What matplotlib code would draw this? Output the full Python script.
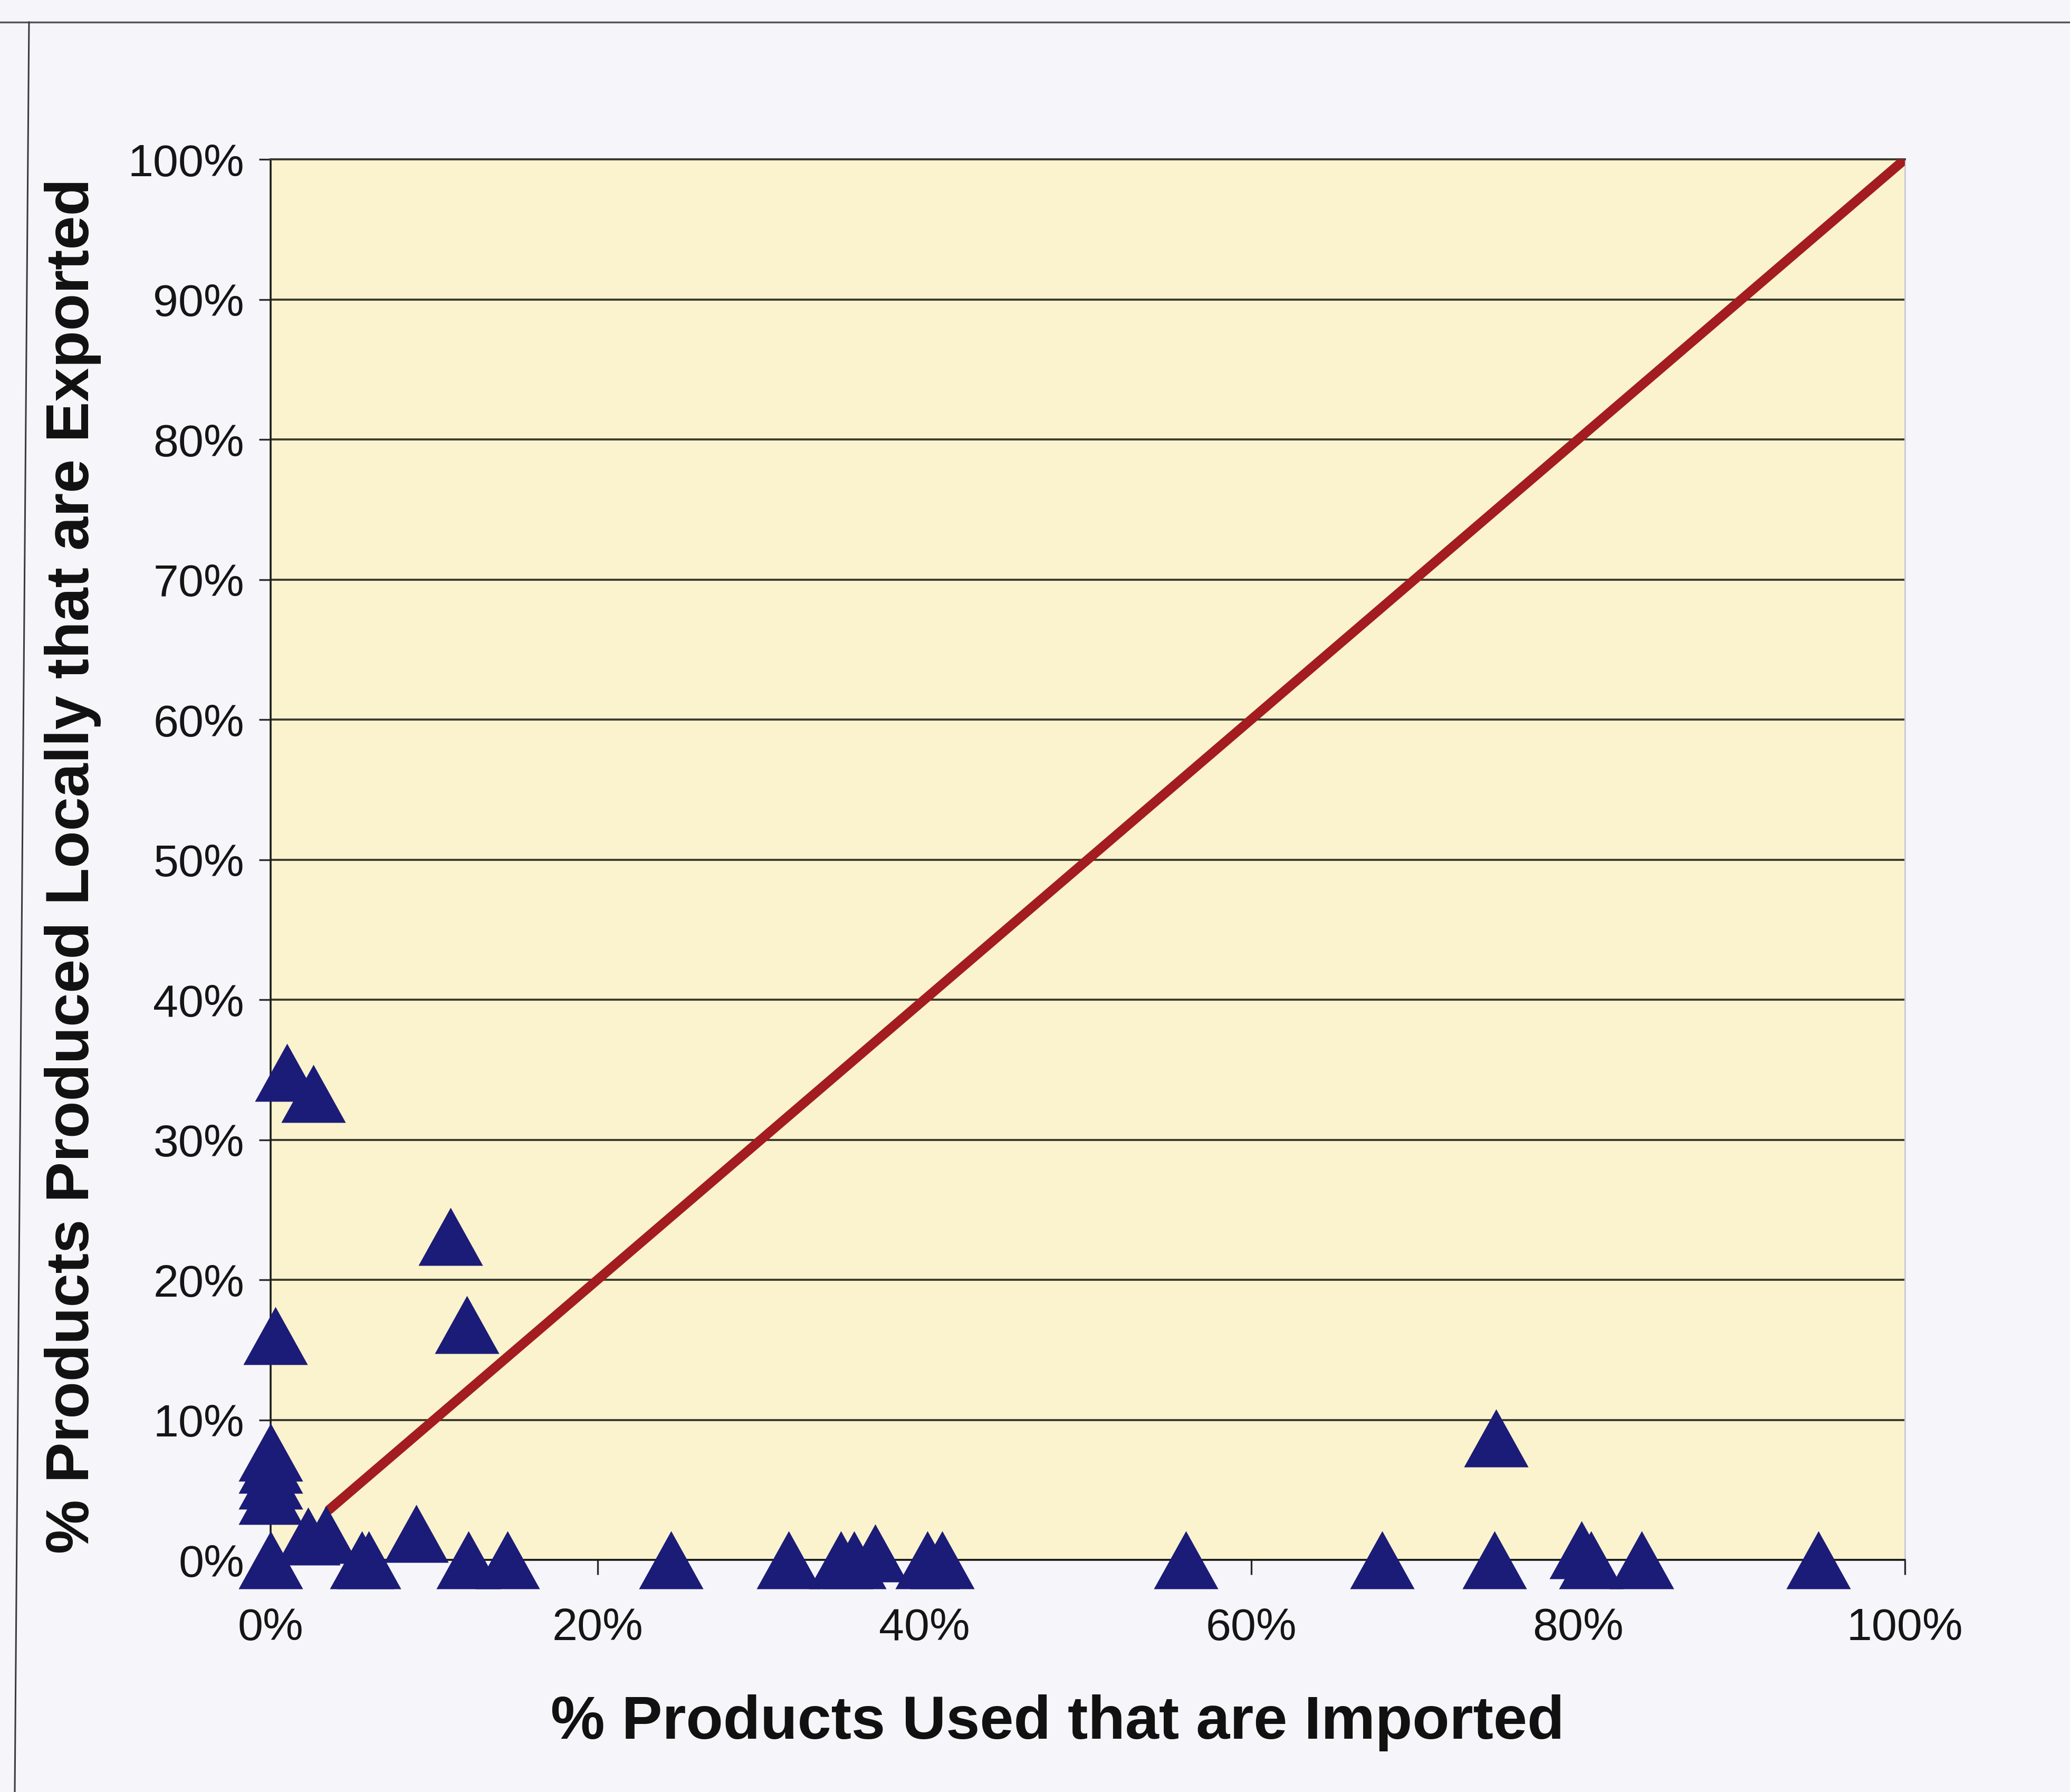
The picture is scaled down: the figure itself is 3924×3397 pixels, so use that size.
import matplotlib
matplotlib.use("Agg")
import matplotlib.pyplot as plt
from matplotlib.path import Path
from matplotlib.lines import Line2D
from matplotlib.ticker import PercentFormatter, MultipleLocator

plt.rcParams["font.family"] = ["Liberation Sans", "DejaVu Sans"]

# Share of products used that are imported (%) and share produced locally that are exported (%)
pct_imported = [1.0, 2.6, 11.0, 12.0, 0.3, 0.0, 0.0, 0.0, 0.0, 0.0,
                2.3, 3.4, 5.6, 6.0, 8.9, 12.1, 14.5, 24.5, 31.7, 34.9,
                35.7, 37.0, 40.2, 41.1, 56.0, 68.0, 74.9, 75.0, 80.2, 80.8,
                83.9, 94.7]
pct_exported = [34.8, 33.3, 23.1, 16.8, 16.0, 7.7, 6.8, 5.7, 4.6, 0.0,
                1.7, 1.8, 0.0, 0.0, 1.9, 0.0, 0.0, 0.0, 0.0, 0.0,
                0.0, 0.5, 0.0, 0.0, 0.0, 0.0, 0.0, 8.7, 0.7, 0.0,
                0.0, 0.0]

# Reference diagonal (imports share == exports share)
diag_x = [3.6, 100.0]
diag_y = [3.6, 100.0]

x_title = "% Products Used that are Imported"
y_title = "% Products Produced Locally that are Exported"

W, H, DPI = 3924, 3398, 100
fig = plt.figure(figsize=(W / DPI, H / DPI), dpi=DPI, facecolor="#F6F6FA")

left, right, top, bottom = 513, 3611, 303, 2958
ax = fig.add_axes([left / W, 1 - bottom / H, (right - left) / W, (bottom - top) / H])
ax.set_facecolor("#FAF3CD")

ax.set_xlim(0, 100)
ax.set_ylim(0, 100)

# Horizontal gridlines
ax.yaxis.set_major_locator(MultipleLocator(10))
ax.xaxis.set_major_locator(MultipleLocator(20))
ax.grid(axis="y", color="#3a3a30", linewidth=2.8, zorder=1)
ax.grid(axis="x", visible=False)
ax.set_axisbelow(True)

# Spines
for s in ("left", "bottom"):
    ax.spines[s].set_color("#1c1c1c")
    ax.spines[s].set_linewidth(2.6)
ax.spines["top"].set_color("#3a3a30")
ax.spines["top"].set_linewidth(2.8)
ax.spines["right"].set_color("#c9c9d6")
ax.spines["right"].set_linewidth(2.0)

ax.xaxis.set_major_formatter(PercentFormatter(100, decimals=0))
ax.yaxis.set_major_formatter(PercentFormatter(100, decimals=0))
ax.tick_params(axis="y", direction="out", length=16, width=2.4, color="#2a2a2a",
               pad=20, labelsize=62, labelcolor="#151515")
ax.tick_params(axis="x", direction="out", length=20, width=2.4, color="#2a2a2a",
               pad=44, labelsize=62, labelcolor="#151515")

# Diagonal line
ax.plot(diag_x, diag_y, color="#A31C20", linewidth=13, solid_capstyle="round", zorder=3)

# Triangle markers, slightly wider than tall
tri = Path([(0, 0.9), (-1, -0.9), (1, -0.9), (0, 0.9)],
           [Path.MOVETO, Path.LINETO, Path.LINETO, Path.CLOSEPOLY])
ax.plot(pct_imported, pct_exported, linestyle="none", marker=tri, markersize=88,
        markerfacecolor="#1B1B78", markeredgewidth=0, clip_on=False, zorder=4)

ax.set_xlabel(x_title, fontsize=83, fontweight="bold", color="#111111")
ax.xaxis.set_label_coords(0.4816, -0.1159)
ax.xaxis.label.set_verticalalignment("center")
ax.set_ylabel(y_title, fontsize=83, fontweight="bold", color="#111111")
ax.yaxis.set_label_coords(-0.121, 0.496)
ax.yaxis.label.set_verticalalignment("center")

# Outer chart frame
fig.add_artist(Line2D([0, 1], [1 - 43 / H, 1 - 43 / H], transform=fig.transFigure,
                      color="#55555c", linewidth=2.5))
fig.add_artist(Line2D([55 / W, 28 / W], [1 - 43 / H, 0], transform=fig.transFigure,
                      color="#3a3a40", linewidth=2.2))

fig.savefig("out.png", dpi=DPI, facecolor=fig.get_facecolor())
